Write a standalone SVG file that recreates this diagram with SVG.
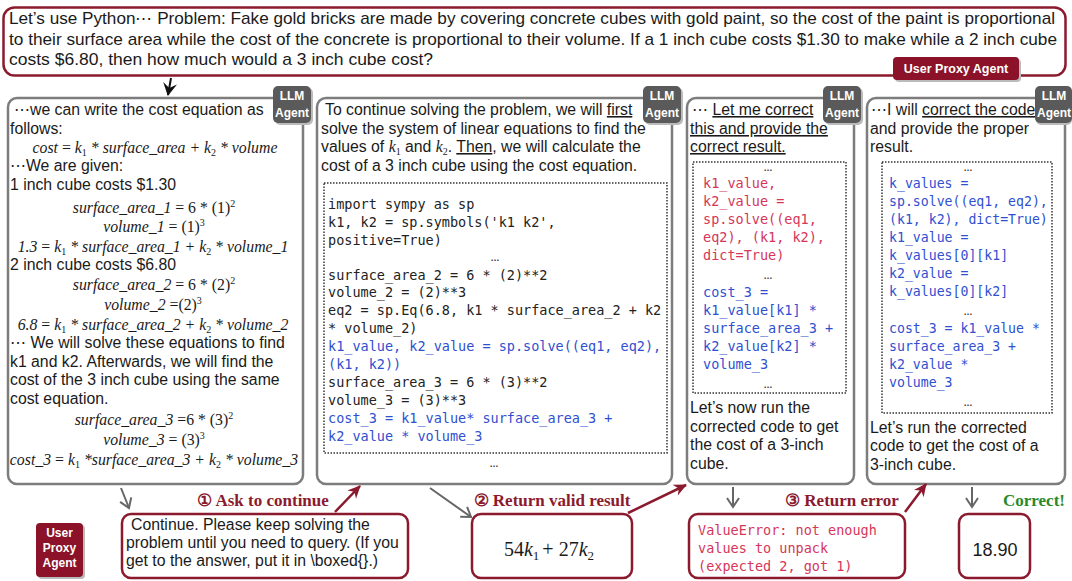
<svg xmlns="http://www.w3.org/2000/svg" width="1072" height="581" viewBox="0 0 1072 581">
<style>
.t{font-family:"Liberation Sans",Arial,sans-serif;font-size:15.8px;fill:#1a1a1a}
.tt{font-family:"Liberation Sans",Arial,sans-serif;font-size:16.2px;fill:#1a1a1a}
.m{font-family:"DejaVu Sans Mono","Liberation Mono",monospace;font-size:13.5px;fill:#222}
.m4{font-size:13.2px}
.blue{fill:#2f50d0}
.red{fill:#d5365a}
.eq{font-family:"Liberation Serif","Times New Roman",serif;font-style:italic;font-size:15.8px;fill:#1a1a1a}
.n{font-style:normal}
.sub{font-size:10px}
.panel{fill:#fff;stroke:#7d7d7d;stroke-width:2.5}
.badge{fill:#5a5a5a}
.bt{font-family:"Liberation Sans",Arial,sans-serif;font-weight:bold;font-size:12px;fill:#fff;text-anchor:middle}
.code{fill:none;stroke:#333;stroke-width:1.5;stroke-dasharray:1.5 1.5}
.dots{font-family:"Liberation Sans",Arial,sans-serif;font-size:9px;font-weight:bold;fill:#333;text-anchor:middle}
.lbl{font-family:"Liberation Serif","Times New Roman",serif;font-weight:bold;font-size:17px;fill:#8b1a2e;text-anchor:middle}
.rbox{fill:#fff;stroke:#8b1a2e;stroke-width:2.5}
.ubadge{fill:#8b1229}
.garrow{fill:none;stroke:#666;stroke-width:2}
.rarrow{fill:none;stroke:#8b1a2e;stroke-width:2.5}
.u{text-decoration:underline}
</style>
<defs>
<marker id="hg" markerUnits="userSpaceOnUse" markerWidth="16" markerHeight="16" refX="11" refY="8" orient="auto">
<path d="M2,2 L11,8 L2,14" fill="none" stroke="#666" stroke-width="2"/>
</marker>
<marker id="hr" markerUnits="userSpaceOnUse" markerWidth="16" markerHeight="16" refX="13" refY="8" orient="auto">
<path d="M1,2 L14,8 L1,14 L5,8 Z" fill="#8b1a2e"/>
</marker>
<marker id="hb" markerUnits="userSpaceOnUse" markerWidth="16" markerHeight="16" refX="13" refY="8" orient="auto">
<path d="M1,1 L14,8 L1,15 L6,8 Z" fill="#111"/>
</marker>
</defs>
<rect width="1072" height="581" fill="#fff"/>

<!-- Top problem node -->
<g id="problem">
<rect x="3.5" y="7.5" width="1062" height="68" rx="11" class="rbox"/>
<text class="tt" x="9" y="24" textLength="1046" lengthAdjust="spacingAndGlyphs">Let’s use Python⋯  Problem: Fake gold bricks are made by covering concrete cubes with gold paint, so the cost of the paint is proportional</text>
<text class="tt" x="9" y="45" textLength="1048" lengthAdjust="spacingAndGlyphs">to their surface area while the cost of the concrete is proportional to their volume.  If a 1 inch cube costs $1.30 to make while a 2 inch cube</text>
<text class="tt" x="9" y="65" textLength="424" lengthAdjust="spacingAndGlyphs">costs $6.80, then how much would a 3 inch cube cost?</text>
<rect x="895" y="59" width="126" height="23" rx="4" fill="#bbb"/>
<rect x="893" y="57" width="126" height="23" rx="4" class="ubadge"/>
<text class="bt" x="956" y="73" style="font-size:12.5px">User Proxy Agent</text>
</g>

<!-- Panel 1 -->
<g id="llm1">
<rect x="8" y="98" width="295" height="386" rx="9" class="panel"/>
<text class="t" x="14" y="115">⋯we can write the cost equation as</text>
<text class="t" x="10" y="134">follows:</text>
<text class="eq" x="155" y="153" text-anchor="middle">cost <tspan class="n">=</tspan> k<tspan class="n sub" dy="3">1</tspan><tspan dy="-3"> * surface_area + k</tspan><tspan class="n sub" dy="3">2</tspan><tspan dy="-3"> * volume</tspan></text>
<text class="t" x="10" y="171">⋯We are given:</text>
<text class="t" x="10" y="190">1 inch cube costs $1.30</text>
<text class="eq" x="154" y="213" text-anchor="middle">surface_area_1 <tspan class="n">= 6 * (1)</tspan><tspan class="n sub" dy="-6">2</tspan></text>
<text class="eq" x="154" y="232" text-anchor="middle">volume_1 <tspan class="n">= (1)</tspan><tspan class="n sub" dy="-6">3</tspan></text>
<text class="eq" x="153" y="252" text-anchor="middle">1.3 <tspan class="n">=</tspan> k<tspan class="n sub" dy="3">1</tspan><tspan dy="-3"> * surface_area_1 + k</tspan><tspan class="n sub" dy="3">2</tspan><tspan dy="-3"> * volume_1</tspan></text>
<text class="t" x="10" y="270">2 inch cube costs $6.80</text>
<text class="eq" x="154" y="290" text-anchor="middle">surface_area_2 <tspan class="n">= 6 * (2)</tspan><tspan class="n sub" dy="-6">2</tspan></text>
<text class="eq" x="153" y="310" text-anchor="middle">volume_2 <tspan class="n">=(2)</tspan><tspan class="n sub" dy="-6">3</tspan></text>
<text class="eq" x="153" y="330" text-anchor="middle">6.8 <tspan class="n">=</tspan> k<tspan class="n sub" dy="3">1</tspan><tspan dy="-3"> * surface_area_2 + k</tspan><tspan class="n sub" dy="3">2</tspan><tspan dy="-3"> * volume_2</tspan></text>
<text class="t" x="10" y="348">⋯ We will solve these equations to find</text>
<text class="t" x="10" y="367">k1 and k2. Afterwards, we will find the</text>
<text class="t" x="10" y="385">cost of the 3 inch cube using the same</text>
<text class="t" x="10" y="404">cost equation.</text>
<text class="eq" x="154" y="425" text-anchor="middle">surface_area_3 <tspan class="n">=6 * (3)</tspan><tspan class="n sub" dy="-6">2</tspan></text>
<text class="eq" x="154" y="445" text-anchor="middle">volume_3 <tspan class="n">= (3)</tspan><tspan class="n sub" dy="-6">3</tspan></text>
<text class="eq" x="154" y="465" text-anchor="middle">cost_3 <tspan class="n">=</tspan> k<tspan class="n sub" dy="3">1</tspan><tspan dy="-3"> *surface_area_3 + k</tspan><tspan class="n sub" dy="3">2</tspan><tspan dy="-3"> * volume_3</tspan></text>
<rect x="275" y="88" width="38" height="37" rx="5" fill="#bbb"/>
<rect x="273" y="86" width="38" height="37" rx="5" class="badge"/>
<text class="bt" x="292" y="100">LLM</text>
<text class="bt" x="292" y="117">Agent</text>
</g>

<!-- Panel 2 -->
<g id="llm2">
<rect x="317" y="98" width="355" height="386" rx="9" class="panel"/>
<text class="t" x="325" y="115">To continue solving the problem, we will <tspan class="u">first</tspan></text>
<text class="t" x="321" y="134">solve the system of linear equations to find the</text>
<text class="t" x="321" y="152">values of <tspan class="eq">k</tspan><tspan class="eq n sub" dy="3">1</tspan><tspan dy="-3"> and </tspan><tspan class="eq">k</tspan><tspan class="eq n sub" dy="3">2</tspan><tspan dy="-3">. </tspan><tspan class="u">Then</tspan>, we will calculate the</text>
<text class="t" x="321" y="171">cost of a 3 inch cube using the cost equation.</text>
<rect x="324" y="183" width="343" height="270" class="code"/>
<text class="m" x="328" y="209">import sympy as sp</text>
<text class="m" x="328" y="227">k1, k2 = sp.symbols('k1 k2',</text>
<text class="m" x="328" y="245">positive=True)</text>
<text class="dots" x="495" y="261">…</text>
<text class="m" x="328" y="280">surface_area_2 = 6 * (2)**2</text>
<text class="m" x="328" y="297">volume_2 = (2)**3</text>
<text class="m" x="328" y="315">eq2 = sp.Eq(6.8, k1 * surface_area_2 + k2</text>
<text class="m" x="328" y="333">* volume_2)</text>
<text class="m blue" x="328" y="351">k1_value, k2_value = sp.solve((eq1, eq2),</text>
<text class="m blue" x="328" y="369">(k1, k2))</text>
<text class="m" x="328" y="387">surface_area_3 = 6 * (3)**2</text>
<text class="m" x="328" y="405">volume_3 = (3)**3</text>
<text class="m blue" x="328" y="423">cost_3 = k1_value* surface_area_3 +</text>
<text class="m blue" x="328" y="441">k2_value * volume_3</text>
<text class="dots" x="494" y="467">…</text>
<rect x="645" y="88" width="38" height="37" rx="5" fill="#bbb"/>
<rect x="643" y="86" width="38" height="37" rx="5" class="badge"/>
<text class="bt" x="662" y="100">LLM</text>
<text class="bt" x="662" y="117">Agent</text>
</g>

<!-- Panel 3 -->
<g id="llm3">
<rect x="687" y="98" width="167" height="386" rx="9" class="panel"/>
<text class="t" x="692" y="115">⋯ <tspan class="u">Let me correct</tspan></text>
<text class="t u" x="690" y="134">this and provide the</text>
<text class="t u" x="690" y="152">correct result.</text>
<rect x="693" y="162" width="153" height="231" class="code"/>
<text class="dots" x="768" y="171">…</text>
<text class="m red" x="703" y="188">k1_value,</text>
<text class="m red" x="703" y="206">k2_value =</text>
<text class="m red" x="703" y="224">sp.solve((eq1,</text>
<text class="m red" x="703" y="242">eq2), (k1, k2),</text>
<text class="m red" x="703" y="260">dict=True)</text>
<text class="dots" x="768" y="279">…</text>
<text class="m blue" x="703" y="297">cost_3 =</text>
<text class="m blue" x="703" y="315">k1_value[k1] *</text>
<text class="m blue" x="703" y="333">surface_area_3 +</text>
<text class="m blue" x="703" y="351">k2_value[k2] *</text>
<text class="m blue" x="703" y="369">volume_3</text>
<text class="dots" x="768" y="388">…</text>
<text class="t" x="690" y="413">Let’s now run the</text>
<text class="t" x="690" y="432">corrected code to get</text>
<text class="t" x="690" y="450">the cost of a 3-inch</text>
<text class="t" x="690" y="469">cube.</text>
<rect x="825" y="88" width="38" height="37" rx="5" fill="#bbb"/>
<rect x="823" y="86" width="38" height="37" rx="5" class="badge"/>
<text class="bt" x="842" y="100">LLM</text>
<text class="bt" x="842" y="117">Agent</text>
</g>

<!-- Panel 4 -->
<g id="llm4">
<rect x="867" y="98" width="198" height="386" rx="9" class="panel"/>
<text class="t" x="871" y="115">⋯I will <tspan class="u">correct the code</tspan></text>
<text class="t" x="870" y="134">and provide the proper</text>
<text class="t" x="870" y="152">result.</text>
<rect x="882" y="162" width="170" height="251" class="code"/>
<text class="dots" x="968" y="171">…</text>
<text class="m m4 blue" x="889" y="188">k_values =</text>
<text class="m m4 blue" x="889" y="206">sp.solve((eq1, eq2),</text>
<text class="m m4 blue" x="889" y="224">(k1, k2), dict=True)</text>
<text class="m m4 blue" x="889" y="242">k1_value =</text>
<text class="m m4 blue" x="889" y="260">k_values[0][k1]</text>
<text class="m m4 blue" x="889" y="278">k2_value =</text>
<text class="m m4 blue" x="889" y="296">k_values[0][k2]</text>
<text class="dots" x="968" y="315">…</text>
<text class="m m4 blue" x="889" y="333">cost_3 = k1_value *</text>
<text class="m m4 blue" x="889" y="351">surface_area_3 +</text>
<text class="m m4 blue" x="889" y="369">k2_value *</text>
<text class="m m4 blue" x="889" y="387">volume_3</text>
<text class="dots" x="968" y="406">…</text>
<text class="t" x="870" y="433">Let’s run the corrected</text>
<text class="t" x="870" y="451">code to get the cost of a</text>
<text class="t" x="870" y="470">3-inch cube.</text>
<rect x="1036" y="88" width="36" height="37" rx="5" fill="#bbb"/>
<rect x="1035" y="86" width="37" height="37" rx="5" class="badge"/>
<text class="bt" x="1054" y="100">LLM</text>
<text class="bt" x="1054" y="117">Agent</text>
</g>

<!-- Bottom row nodes -->
<g id="user-badge">
<rect x="38" y="525" width="47" height="54" rx="4" fill="#bbb"/>
<rect x="36" y="523" width="47" height="54" rx="4" class="ubadge"/>
<text class="bt" x="59.5" y="537">User</text>
<text class="bt" x="59.5" y="552">Proxy</text>
<text class="bt" x="59.5" y="567">Agent</text>
</g>
<g id="continue">
<rect x="122" y="514" width="286" height="64" rx="9" class="rbox"/>
<text class="t" x="131" y="530">Continue. Please keep solving the</text>
<text class="t" x="126" y="548">problem until you need to query. (If you</text>
<text class="t" x="126" y="566">get to the answer, put it in \boxed{}.)</text>
</g>
<g id="valid-result">
<rect x="472" y="514" width="160" height="64" rx="9" class="rbox"/>
<text class="eq" x="549" y="556" text-anchor="middle" style="font-size:20px"><tspan class="n">54</tspan>k<tspan class="n" style="font-size:13px" dy="4">1</tspan><tspan class="n" dy="-4" dx="3">+ 27</tspan>k<tspan class="n" style="font-size:13px" dy="4">2</tspan></text>
</g>
<g id="error">
<rect x="689" y="514" width="216" height="64" rx="9" class="rbox"/>
<text class="m red" x="698" y="535">ValueError: not enough</text>
<text class="m red" x="698" y="553">values to unpack</text>
<text class="m red" x="698" y="571">(expected 2, got 1)</text>
</g>
<g id="final">
<rect x="959" y="514" width="71" height="64" rx="9" class="rbox"/>
<text class="t" x="995" y="556" text-anchor="middle" style="font-size:18px">18.90</text>
</g>

<!-- Connectors -->
<g id="connectors">
<line x1="171" y1="78" x2="168" y2="95" stroke="#111" stroke-width="2" marker-end="url(#hb)"/>
<line x1="121" y1="488" x2="129" y2="508" class="garrow" marker-end="url(#hg)"/>
<line x1="335" y1="512" x2="360" y2="486" class="rarrow" marker-end="url(#hr)"/>
<line x1="430" y1="488" x2="471" y2="517" class="garrow" marker-end="url(#hg)"/>
<line x1="628" y1="513" x2="686" y2="485" class="rarrow" marker-end="url(#hr)"/>
<line x1="733" y1="487" x2="733" y2="507" class="garrow" marker-end="url(#hg)"/>
<line x1="905" y1="512" x2="926" y2="484" class="rarrow" marker-end="url(#hr)"/>
<line x1="972" y1="487" x2="972" y2="507" class="garrow" marker-end="url(#hg)"/>
<text class="lbl" x="263" y="506">① Ask to continue</text>
<text class="lbl" x="552" y="506">② Return valid result</text>
<text class="lbl" x="842" y="506">③ Return error</text>
<text class="lbl" x="1034" y="506" style="fill:#2a8a2a">Correct!</text>
</g>
</svg>
